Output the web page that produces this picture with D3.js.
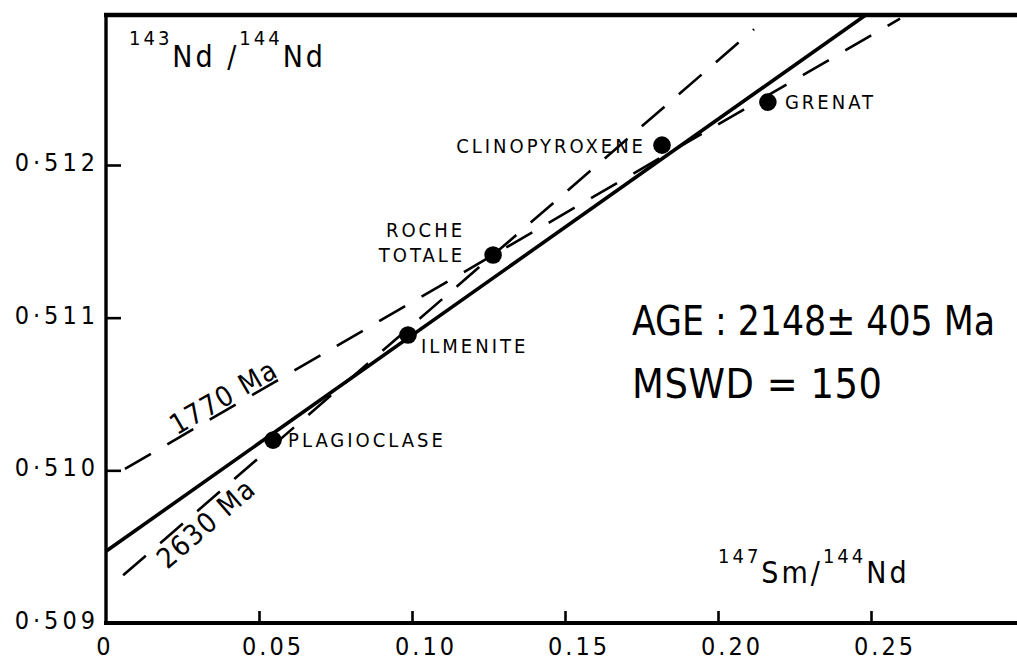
<!DOCTYPE html>
<html>
<head>
<meta charset="utf-8">
<script src="https://cdn.jsdelivr.net/npm/d3@7"></script>
<style>
  html, body { margin: 0; padding: 0; background: #fff; }
  svg { display: block; }
  text { font-family: "DejaVu Sans Condensed", "DejaVu Sans", sans-serif; font-stretch: condensed; fill: #000; }
</style>
</head>
<body>
<svg id="chart" width="1017" height="662"></svg>
<script>
// Mineral separates and whole rock: 147Sm/144Nd vs 143Nd/144Nd
const samples   = ["PLAGIOCLASE", "ILMENITE", "ROCHE TOTALE", "CLINOPYROXENE", "GRENAT"];
const smNd      = [0.0546, 0.0987, 0.1265, 0.1817, 0.2163];
const ndNd      = [0.510198, 0.510886, 0.511410, 0.512130, 0.512412];

// Isochron (age from the fit) and its initial ratio
const isoAge     = 2148;      // Ma
const isoAgeErr  = 405;       // Ma
const isoMswd    = 150;
const isoInitial = 0.50947;
const isoRange   = [0, 0.30];

// Reference lines through the whole rock
const refAges   = [1770, 2630];          // Ma
const refRanges = [[0.0062, 0.2595], [0.0056, 0.2118]];
const refAnchor = 2;                      // index of ROCHE TOTALE

// Axis ticks
const xTicks = [0, 0.05, 0.10, 0.15, 0.20, 0.25];
const xTickLabels = ["0", "0.05", "0.10", "0.15", "0.20", "0.25"];
const yTicks = [0.509, 0.510, 0.511, 0.512];
const yTickLabels = ["0\u00B7509", "0\u00B7510", "0\u00B7511", "0\u00B7512"];

const LAMBDA = 6.54e-12; // 147Sm decay constant, per year
const slopeFromAge = ma => Math.exp(LAMBDA * ma * 1e6) - 1;

// ---- layout ----
const mLeft = 106, mTop = 15, mBottom = 623, mRight = 1017;

const x = d3.scaleLinear().domain([0, (mRight - mLeft) / 3060]).range([mLeft, mRight]);
const y = d3.scaleLinear().domain([0.509, 0.512 + (165 - mTop) / 152670]).range([mBottom, mTop]);

const svg = d3.select("#chart");

svg.append("defs").append("clipPath").attr("id", "plot")
  .append("rect").attr("x", mLeft).attr("y", mTop).attr("width", mRight - mLeft).attr("height", mBottom - mTop);

const line = d3.line().x(d => x(d[0])).y(d => y(d[1]));

// Isochron
const isoSlope = slopeFromAge(isoAge);
svg.append("path")
  .attr("clip-path", "url(#plot)")
  .attr("d", line(isoRange.map(v => [v, isoInitial + isoSlope * v])))
  .attr("fill", "none").attr("stroke", "#000").attr("stroke-width", 3.6);

// Reference model lines through the whole rock
const ax = smNd[refAnchor], ay = ndNd[refAnchor];
refAges.forEach((age, i) => {
  const s = slopeFromAge(age);
  const f = v => ay + s * (v - ax);
  svg.append("path")
    .attr("clip-path", "url(#plot)")
    .attr("d", line(refRanges[i].map(v => [v, f(v)])))
    .attr("fill", "none").attr("stroke", "#000").attr("stroke-width", 2.6)
    .attr("stroke-dasharray", "30,19");
});

// Age labels along the reference lines
function lineLabel(age, at, offset, baseline) {
  const s = slopeFromAge(age);
  const px = x(at), py = y(ay + s * (at - ax));
  const ang = Math.atan2(y(ay + s * (at + 0.01 - ax)) - py, x(at + 0.01) - px) * 180 / Math.PI;
  svg.append("text")
    .attr("transform", `translate(${px},${py}) rotate(${ang})`)
    .attr("y", offset)
    .attr("text-anchor", "middle")
    .attr("dominant-baseline", baseline)
    .style("font-size", "28px")
    .style("letter-spacing", "1.5px")
    .text(`${age} Ma`);
}
lineLabel(refAges[0], 0.0405, -3, "alphabetic");
lineLabel(refAges[1], 0.0295, 4, "hanging");

// Axes: left, bottom and top frame lines
svg.append("line").attr("x1", mLeft).attr("x2", mLeft).attr("y1", mTop - 2).attr("y2", mBottom + 2)
  .attr("stroke", "#000").attr("stroke-width", 3.4);
svg.append("line").attr("x1", mLeft - 2).attr("x2", mRight).attr("y1", mBottom).attr("y2", mBottom)
  .attr("stroke", "#000").attr("stroke-width", 4);
svg.append("line").attr("x1", mLeft - 2).attr("x2", mRight).attr("y1", mTop).attr("y2", mTop)
  .attr("stroke", "#000").attr("stroke-width", 4.5);

const xAxis = d3.axisTop(x).tickValues(xTicks.slice(1)).tickSize(12).tickFormat("");
svg.append("g").attr("transform", `translate(0,${mBottom})`).call(xAxis)
  .call(g => g.select(".domain").remove())
  .call(g => g.selectAll("line").attr("stroke", "#000").attr("stroke-width", 2.6));

const yAxis = d3.axisRight(y).tickValues(yTicks.slice(1)).tickSize(15).tickFormat("");
svg.append("g").attr("transform", `translate(${mLeft},0)`).call(yAxis)
  .call(g => g.select(".domain").remove())
  .call(g => g.selectAll("line").attr("stroke", "#000").attr("stroke-width", 2.6));

// Tick labels
svg.append("g").selectAll("text").data(xTicks).join("text")
  .attr("x", (d, i) => x(d) + (i === 0 ? -1 : 14))
  .attr("y", 655)
  .attr("text-anchor", "middle")
  .style("font-size", "25px")
  .style("letter-spacing", "3px")
  .text((d, i) => xTickLabels[i]);

svg.append("g").selectAll("text").data(yTicks).join("text")
  .attr("x", 99)
  .attr("y", d => y(d) + 6)
  .attr("text-anchor", "end")
  .style("font-size", "25px")
  .style("letter-spacing", "4px")
  .text((d, i) => yTickLabels[i]);

// Axis titles with superscript mass numbers
function isoTitle(parts, tx, ty, rise) {
  const t = svg.append("text").attr("x", tx).attr("y", ty)
    .style("font-size", "30px").style("letter-spacing", "3px");
  parts.forEach(p => {
    const s = t.append("tspan").text(p.t);
    if (p.sup) s.style("font-size", "20px").attr("dy", -rise);
    else if (p.down) s.attr("dy", rise);
  });
}
isoTitle([{t: "143", sup: true}, {t: "Nd /", down: true}, {t: "144", sup: true}, {t: "Nd", down: true}], 129, 67, 22);
isoTitle([{t: "147", sup: true}, {t: "Sm/", down: true}, {t: "144", sup: true}, {t: "Nd", down: true}], 718, 583, 20);

// Points
svg.append("g").selectAll("circle").data(samples).join("circle")
  .attr("cx", (d, i) => x(smNd[i]))
  .attr("cy", (d, i) => y(ndNd[i]))
  .attr("r", 8.8)
  .attr("fill", "#000");

// Sample names
const nameLayout = [
  {dx: 15, dy: [7], anchor: "start"},
  {dx: 13, dy: [18], anchor: "start"},
  {dx: -28, dy: [-18, 7], anchor: "end"},
  {dx: -16, dy: [8], anchor: "end"},
  {dx: 17, dy: [7], anchor: "start"}
];
samples.forEach((name, i) => {
  const words = i === refAnchor ? name.split(" ") : [name];
  const L = nameLayout[i];
  words.forEach((w, k) => {
    svg.append("text")
      .attr("x", x(smNd[i]) + L.dx)
      .attr("y", y(ndNd[i]) + L.dy[k])
      .attr("text-anchor", L.anchor)
      .style("font-size", "20px")
      .style("letter-spacing", "3px")
      .text(w);
  });
});

// Fit results
svg.append("text").attr("x", 632).attr("y", 335).style("font-size", "41px")
  .attr("textLength", 363).attr("lengthAdjust", "spacingAndGlyphs")
  .text(`AGE : ${isoAge}\u00B1 ${isoAgeErr} Ma`);
svg.append("text").attr("x", 632).attr("y", 398).style("font-size", "41px")
  .attr("textLength", 250).attr("lengthAdjust", "spacing")
  .text(`MSWD = ${isoMswd}`);
</script>
</body>
</html>
